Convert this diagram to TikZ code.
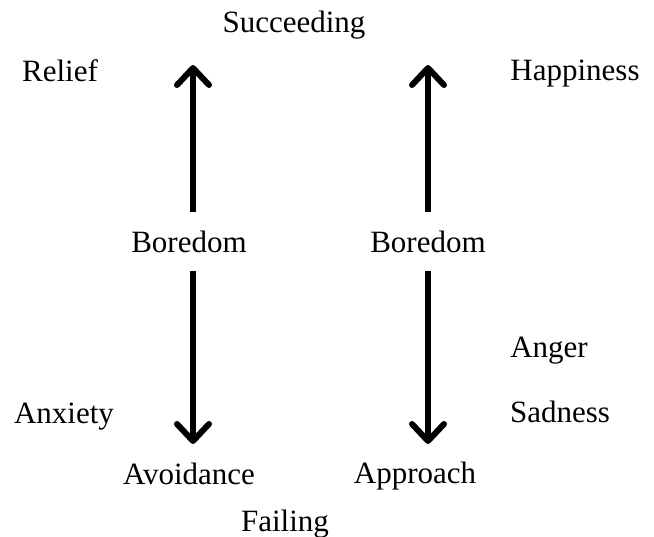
\documentclass[tikz,border=0pt]{standalone}
\usepackage{fontspec}
\setmainfont{Liberation Serif}
\usetikzlibrary{positioning, arrows.meta}

\begin{document}
\begin{tikzpicture}[
      x=1pt, y=-1pt,
      every node/.style={font=\fontsize{31}{36}\selectfont, inner sep=0pt},
      bigarrow/.style={-{Straight Barb[length=17pt, width=32pt, round]}, line width=6pt},
    ]
    \useasboundingbox (0,0) rectangle (654,537);

    \node (succ) at (294, 25) {Succeeding};
    \node (relief) at (60, 71) {Relief};
    \node (happy) at (575, 74) {Happiness};
    \node (boreL) at (189, 242) {Boredom};
    \node (boreR) at (428, 242) {Boredom};
    \node (anger) at (549, 351) {Anger};
    \node (sad) at (560, 412) {Sadness};
    \node (anx) at (64, 417) {Anxiety};
    \node (avoid) at (189, 474) {Avoidance};
    \node (appr) at (415, 476) {Approach};
    \node (fail) at (285, 524) {Failing};

    \coordinate (upL) at (193, 65);
    \coordinate (upR) at (428, 65);
    \coordinate (dnL) at (193, 444);
    \coordinate (dnR) at (428, 444);

    \draw[bigarrow] (boreL.north -| upL) ++(0,-19) -- (upL);
    \draw[bigarrow] (boreR.north -| upR) ++(0,-19) -- (upR);
    \draw[bigarrow] (boreL.south -| dnL) ++(0,18) -- (dnL);
    \draw[bigarrow] (boreR.south -| dnR) ++(0,18) -- (dnR);
  \end{tikzpicture}
\end{document}
